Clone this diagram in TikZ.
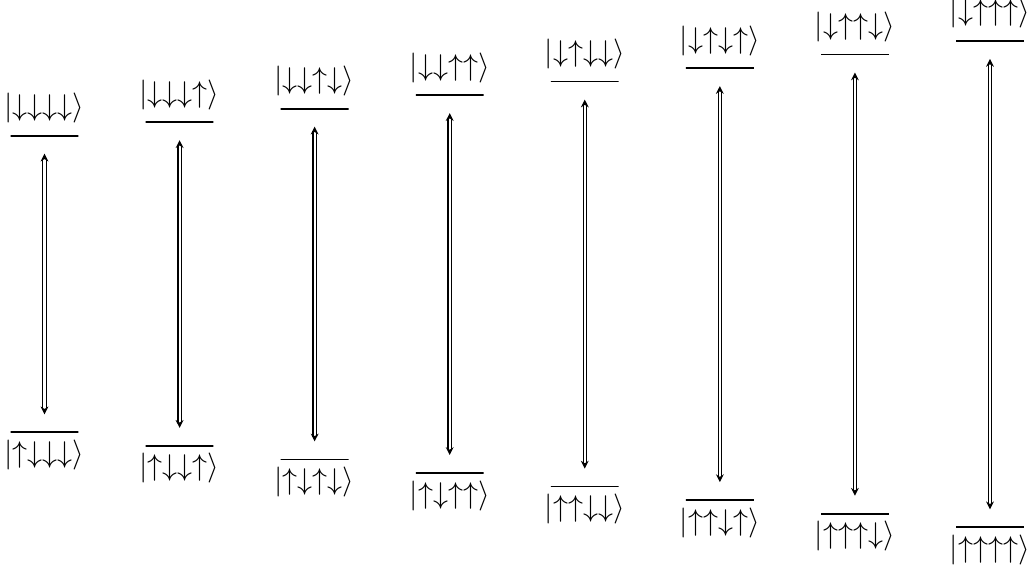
\documentclass[tikz,border=0pt]{standalone}
\usetikzlibrary{arrows.meta}
\newcommand\spD{{\downarrow}}
\newcommand\spU{{\uparrow}}
\tikzset{
  level/.style={draw, line width=0.6pt, minimum width=22.6pt, minimum height=0pt, inner sep=0pt, outer sep=0pt},
  ket/.style={anchor=base, inner sep=0pt},
  flip/.style={double, line width=0.4pt, double distance=0.7pt,
    {Stealth[length=2.6pt,width=2.6pt]}-{Stealth[length=2.6pt,width=2.6pt]},
    shorten <=6pt, shorten >=6pt}
}
\begin{document}
\begin{tikzpicture}[x=0.3333pt, y=-0.3333pt]
  \useasboundingbox (0,0) rectangle (1027,571);
  \foreach \i/\top/\bot in {
      0/{\spD\spD\spD\spD}/{\spU\spD\spD\spD},
      1/{\spD\spD\spD\spU}/{\spU\spD\spD\spU},
      2/{\spD\spD\spU\spD}/{\spU\spD\spU\spD},
      3/{\spD\spD\spU\spU}/{\spU\spD\spU\spU},
      4/{\spD\spU\spD\spD}/{\spU\spU\spD\spD},
      5/{\spD\spU\spD\spU}/{\spU\spU\spD\spU},
      6/{\spD\spU\spU\spD}/{\spU\spU\spU\spD},
      7/{\spD\spU\spU\spU}/{\spU\spU\spU\spU}} {
    \pgfmathsetmacro\xc{44.5+135.07*\i}
    \pgfmathsetmacro\yt{135.7-13.53*\i}
    \pgfmathsetmacro\yb{432.3+13.57*\i}
    % upper and lower levels
    \node[level] (t\i) at (\xc,\yt) {};
    \node[level] (b\i) at (\xc,\yb) {};
    % state labels
    \node[ket] (lt\i) at (\xc,\yt-20) {$|\top\rangle$};
    \node[ket] (lb\i) at (\xc,\yb+30) {$|\bot\rangle$};
    % coupling between the two levels
    \draw[flip] (t\i) -- (b\i);
  }
\end{tikzpicture}
\end{document}
